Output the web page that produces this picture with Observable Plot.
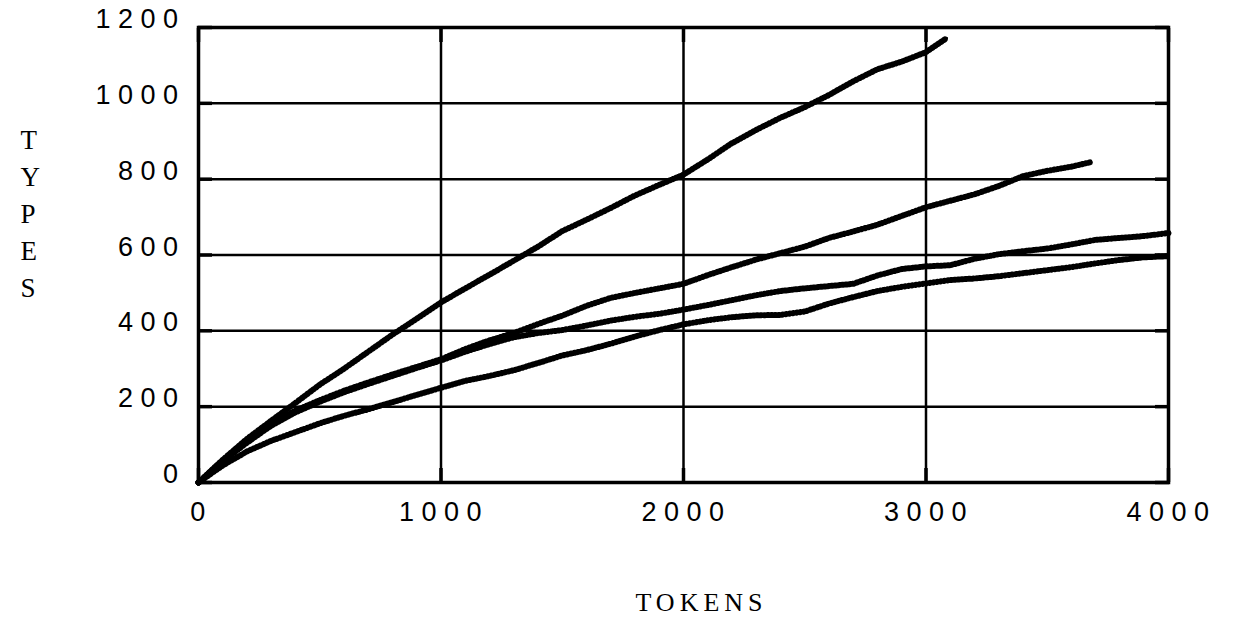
<!DOCTYPE html>
<html><head><meta charset="utf-8">
<script src="https://cdn.jsdelivr.net/npm/d3@7"></script>
<script src="https://cdn.jsdelivr.net/npm/@observablehq/plot@0.6"></script>
<style>body{margin:0;background:#fff}</style>
</head><body><div id="chart"></div>
<script>
const tokensA = [0,100,200,300,400,500,600,700,800,900,1000,1100,1200,1300,1400,1500,1600,1700,1800,1900,2000,2100,2200,2300,2400,2500,2600,2700,2800,2900,3000,3085];
const typesA  = [0,60,115,163,210,258,300,345,390,432,475,512,548,585,622,663,693,724,757,785,812,852,895,930,962,990,1022,1058,1090,1110,1135,1172];

const tokensB = [0,100,200,300,400,500,600,700,800,900,1000,1100,1200,1300,1400,1500,1600,1700,1800,1900,2000,2100,2200,2300,2400,2500,2600,2700,2800,2900,3000,3100,3200,3300,3400,3500,3600,3680];
const typesB  = [0,58,108,155,190,217,242,264,285,305,325,352,375,394,418,440,466,487,500,512,524,547,568,588,605,622,645,662,680,703,726,743,760,782,808,822,833,845];

const tokensC = [0,100,200,300,400,500,600,700,800,900,1000,1100,1200,1300,1400,1500,1600,1700,1800,1900,2000,2100,2200,2300,2400,2500,2600,2700,2800,2900,3000,3100,3200,3300,3400,3500,3600,3700,3800,3900,4000];
const typesC  = [0,56,105,150,185,213,238,260,281,302,322,345,365,383,394,402,414,427,437,445,456,468,481,494,505,512,518,524,546,563,570,573,590,602,610,617,628,640,645,650,658];

const tokensD = [0,100,200,300,400,500,600,700,800,900,1000,1100,1200,1300,1400,1500,1600,1700,1800,1900,2000,2100,2200,2300,2400,2500,2600,2700,2800,2900,3000,3100,3200,3300,3400,3500,3600,3700,3800,3900,4000];
const typesD  = [0,45,82,110,133,156,176,193,212,231,250,268,281,296,315,335,349,366,385,402,417,428,436,441,442,451,472,489,505,516,525,534,538,544,552,560,568,578,587,594,597];

const xTicks = [0,1000,2000,3000,4000];
const yTicks = [0,200,400,600,800,1000,1200];
const xLabel = "TOKENS";
const yLabel = "TYPES";

const series = [["A",tokensA,typesA],["B",tokensB,typesB],["C",tokensC,typesC],["D",tokensD,typesD]];
const rows = series.flatMap(([name, xs, ys]) => xs.map((x, i) => ({series: name, tokens: x, types: ys[i]})));

const tickOpts = {tickSize: -14, strokeWidth: 3.5, text: null, label: null};
const chart = Plot.plot({
  width: 1233, height: 622,
  marginTop: 27, marginBottom: 140, marginLeft: 198, marginRight: 65,
  x: {domain: [0, 4000]},
  y: {domain: [0, 1200]},
  style: {background: "#fff", color: "#000"},
  marks: [
    Plot.gridY(yTicks, {stroke: "#000", strokeOpacity: 1, strokeWidth: 2.5}),
    Plot.gridX(xTicks, {stroke: "#000", strokeOpacity: 1, strokeWidth: 2.5}),
    Plot.axisY(yTicks, {anchor: "left", ...tickOpts}),
    Plot.axisY(yTicks, {anchor: "right", ...tickOpts}),
    Plot.axisX(xTicks, {anchor: "top", ...tickOpts}),
    Plot.axisX(xTicks, {anchor: "bottom", ...tickOpts}),
    Plot.axisY(yTicks, {anchor: "left", tickSize: 0, tickPadding: 13, dy: -8, label: null,
      fontSize: 27, fontFamily: "Liberation Sans", tickFormat: d => String(d)}),
    Plot.axisX(xTicks, {anchor: "bottom", tickSize: 0, tickPadding: 19, dx: 3, label: null,
      fontSize: 27, fontFamily: "Liberation Sans", tickFormat: d => String(d)}),
    Plot.frame({stroke: "#000", strokeWidth: 3.5}),
    Plot.line(rows, {x: "tokens", y: "types", z: "series", stroke: "#000", strokeWidth: 2.8}),
    Plot.line(rows, {x: "tokens", y: "types", z: "series", stroke: "#000", strokeWidth: 6, strokeDasharray: "1,2.6"}),
    Plot.text([xLabel], {frameAnchor: "bottom", dy: 128, dx: 18, fontSize: 26, fontFamily: "Liberation Serif", fill: "#000"}),
    Plot.text([yLabel.split("").join("\n")], {frameAnchor: "top-left", dx: -178, dy: 95, lineAnchor: "top", lineHeight: 1.37, fontSize: 27, fontFamily: "Liberation Serif", fill: "#000"})
  ]
});
d3.select(chart).selectAll('[aria-label="y-axis tick label"], [aria-label="x-axis tick label"]').style("font-size", "27px");
d3.select(chart).selectAll('[aria-label="y-axis tick label"] text, [aria-label="x-axis tick label"] text').style("letter-spacing", "7.5px");
d3.select(chart).selectAll('[aria-label="text"] text').filter(function() { return this.textContent === xLabel; }).style("letter-spacing", "5px");
document.getElementById("chart").appendChild(chart);
</script>
</body></html>
